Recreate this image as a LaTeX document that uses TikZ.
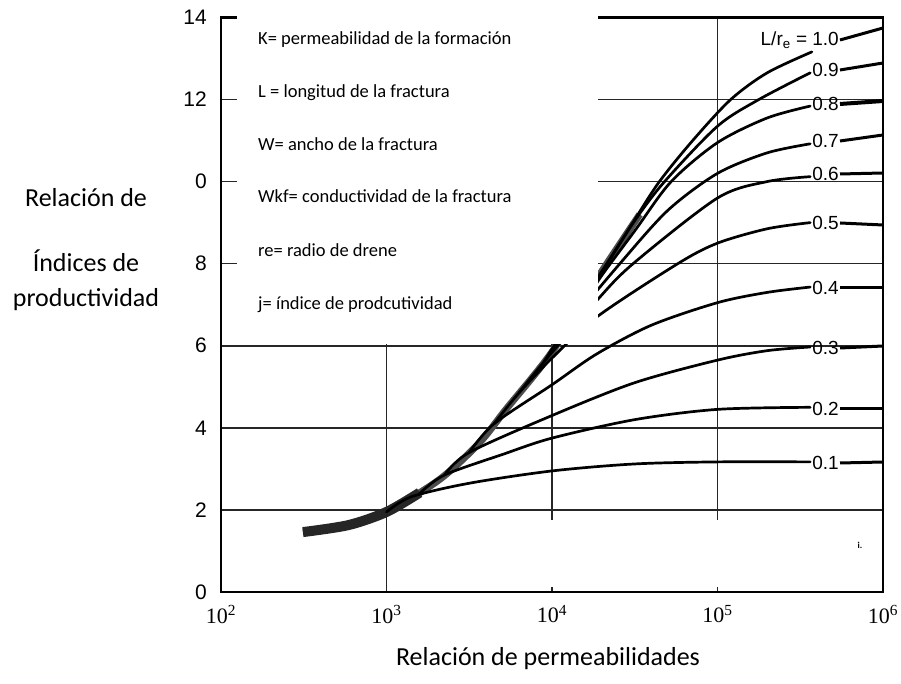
\documentclass[tikz,border=0pt]{standalone}
\usepackage{fontspec}
\setmainfont{Carlito}
\newfontfamily\numfont{Liberation Sans}
\newfontfamily\axfont{Liberation Serif}
\begin{document}
\begin{tikzpicture}
  [x=1pt,y=1pt,
   grid/.style={line width=1.6pt,black!85},
   frame/.style={line width=2.6pt},
   curve/.style={line width=2.7pt,line cap=round},
   envelope/.style={line width=7pt,black!70},
   stub/.style={line width=3pt},
   lbl/.style={font=\numfont\fontsize{19}{19}\selectfont,anchor=east,inner sep=1pt},
   ytick/.style={font=\numfont\fontsize{21}{21}\selectfont,anchor=east,inner sep=0pt},
   decade/.style={font=\axfont\fontsize{22}{22}\selectfont,anchor=north,inner sep=0pt},
   note/.style={font=\fontsize{18.5}{20}\selectfont,anchor=base west,inner sep=0pt},
   title/.style={font=\fontsize{26}{30}\selectfont,anchor=base,inner sep=0pt}]
\useasboundingbox (0,0) rectangle (901,684);
% plot area: x = log10 - 2, y = ratio
\begin{scope}[shift={(221pt,92pt)},x=165.5pt,y=41.04pt]
\foreach \v in {2,4,...,12} \draw[grid] (0,\v) -- (4,\v);
\foreach \d in {1,2,3} \draw[grid] (\d,0) -- (\d,14);
%
\draw[envelope] plot[smooth] coordinates {(0.495,1.46) (0.77,1.63) (1.0,1.95)
  (1.32,2.74) (1.56,3.63) (1.72,4.44) (2.0,5.85) (2.27,7.62) (2.53,9.2)};
\draw[envelope,line width=10pt,black!85] plot[smooth] coordinates {(0.495,1.46) (0.77,1.63) (1.0,1.95)
  (1.2,2.42)};
\draw[curve] plot[smooth] coordinates {(1.0,1.95) (1.15,2.32) (1.5,2.65) (2.0,2.95) (2.5,3.12) (3.0,3.17) (3.56,3.17)};
\draw[curve] plot[smooth] coordinates {(1.2,2.4) (1.35,2.85) (1.7,3.35) (2.0,3.75) (2.5,4.2) (3.0,4.45) (3.56,4.5)};
\draw[curve] plot[smooth] coordinates {(1.35,2.85) (1.5,3.4) (2.0,4.3) (2.5,5.1) (3.0,5.65) (3.3,5.88) (3.56,5.97)};
\draw[curve] plot[smooth] coordinates {(1.5,3.4) (1.65,4.1) (2.0,5.05) (2.27,5.8) (2.6,6.5) (3.0,7.05) (3.3,7.3) (3.56,7.43)};
\draw[curve] plot[smooth] coordinates {(1.65,4.1) (1.8,4.85) (2.0,5.7) (2.27,6.7) (2.76,8.0) (3.0,8.5) (3.3,8.85) (3.56,9.0)};
\draw[curve] plot[smooth] coordinates {(1.8,4.85) (1.95,5.6) (2.27,7.1) (2.49,8.0) (3.0,9.6) (3.3,10.0) (3.56,10.12)};
\draw[curve] plot[smooth] coordinates {(1.95,5.6) (2.1,6.5) (2.41,8.0) (2.7,9.3) (3.0,10.2) (3.3,10.7) (3.56,10.92)};
\draw[curve] plot[smooth] coordinates {(2.0,5.85) (2.2,7.15) (2.5,8.8) (2.72,10.0) (3.0,10.95) (3.3,11.55) (3.56,11.84)};
\draw[curve] plot[smooth] coordinates {(2.2,7.15) (2.35,8.1) (2.5,9.05) (2.68,10.0) (3.0,11.35) (3.25,12.0) (3.56,12.65)};
\draw[curve] plot[smooth] coordinates {(2.27,7.62) (2.45,8.75) (2.64,9.95) (2.85,11.0) (3.08,12.0) (3.3,12.65) (3.57,13.16)};
%
\fill[white] (1.994,0.12) rectangle (3.97,1.75);
\draw[frame] (0,0) rectangle (4,14);
%
\node at (-0.085,14) (y14) [ytick] {14};
\node at (-0.085,12) (y12) [ytick] {12};
\node at (-0.085,10) (y10) [ytick] {0};
\node at (-0.085,8) (y8) [ytick] {8};
\node at (-0.085,6) (y6) [ytick] {6};
\node at (-0.085,4) (y4) [ytick] {4};
\node at (-0.085,2) (y2) [ytick] {2};
\node at (-0.085,0) (y0) [ytick] {0};
\foreach \d/\e in {0/2,1/3,2/4,3/5,4/6}
  \node at (\d,-0.32) (x\e) [decade] {10\textsuperscript{\e}};
\end{scope}
% legend box
\fill[white] (237,340) rectangle (598,676);
\node at (258,639) (kk) [note] {K= permeabilidad de la formación};
\node at (258,586) (ll) [note] {L = longitud de la fractura};
\node at (258,533) (ww) [note] {W= ancho de la fractura};
\node at (258,481) (wkf) [note] {Wkf= conductividad de la fractura};
\node at (258,427) (re) [note] {re= radio de drene};
\node at (258,374) (jj) [note] {j= índice de prodcutividad};
% curve labels
\node at (840,644) (r10) [lbl] {L/r\textsubscript{e} = 1.0};
\node at (840,614) (r9) [lbl] {0.9};
\node at (840,580) (r8) [lbl] {0.8};
\node at (840,543) (r7) [lbl] {0.7};
\node at (840,510) (r6) [lbl] {0.6};
\node at (840,461) (r5) [lbl] {0.5};
\node at (840,396) (r4) [lbl] {0.4};
\node at (840,336) (r3) [lbl] {0.3};
\node at (840,275) (r2) [lbl] {0.2};
\node at (840,221) (r1) [lbl] {0.1};
\coordinate (e10) at (883,656);
\coordinate (e9) at (883,621);
\coordinate (e8) at (883,583);
\coordinate (e7) at (883,549);
\coordinate (e6) at (883,511);
\coordinate (e5) at (883,459);
\coordinate (e4) at (883,396);
\coordinate (e3) at (883,338);
\coordinate (e2) at (883,275);
\coordinate (e1) at (883,222);
\draw[stub] (r10.east) -- (e10);
\draw[stub] (r9.east) -- (e9);
\draw[stub,line width=4pt] (r8.east) -- (e8);
\draw[stub] (r7.east) -- (e7);
\draw[stub] (r6.east) -- (e6);
\draw[stub] (r5.east) -- (e5);
\draw[stub] (r4.east) -- (e4);
\draw[stub] (r3.east) -- (e3);
\draw[stub] (r2.east) -- (e2);
\draw[stub] (r1.east) -- (e1);
\node at (860,139) (mark) [font=\bfseries\fontsize{9}{9}\selectfont] {i.};
% axis titles
\node at (86,477) (yt1) [title] {Relación de};
\node at (86,412) (yt2) [title] {Índices de};
\node at (86,377) (yt3) [title] {productividad};
\node at (548,18) (xt) [title] {Relación de permeabilidades};
\end{tikzpicture}
\end{document}
